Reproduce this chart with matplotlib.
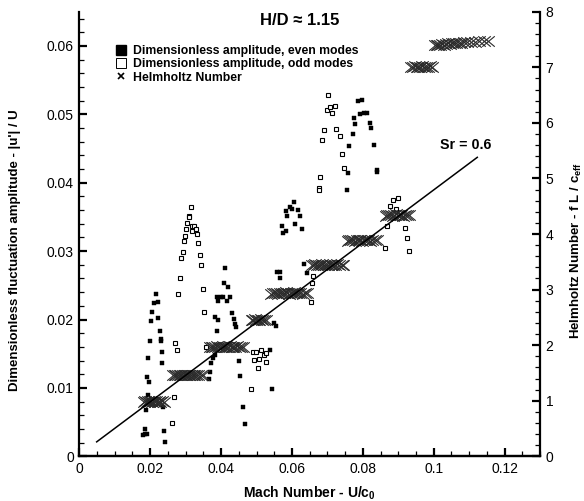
import matplotlib
matplotlib.use('Agg')
import matplotlib.pyplot as plt
from matplotlib.lines import Line2D
from matplotlib.path import Path
from matplotlib.ticker import MultipleLocator

plt.rcParams['font.family'] = ['Liberation Sans', 'DejaVu Sans']
plt.rcParams['mathtext.fontset'] = 'custom'
plt.rcParams['mathtext.rm'] = 'Liberation Sans:bold'
plt.rcParams['mathtext.it'] = 'Liberation Sans:bold'
plt.rcParams['mathtext.default'] = 'rm'

# even modes (filled squares): Mach number, |u'|/U
even_mach = [0.0217, 0.0212, 0.0222, 0.0206, 0.0203, 0.0223, 0.0228, 0.0231, 0.0231, 0.0200,
             0.0234, 0.0195, 0.0234, 0.0192, 0.0197, 0.0195, 0.0189, 0.0237, 0.0186, 0.0181,
             0.0186, 0.0192, 0.0240, 0.0243, 0.0198,
             0.0412, 0.0409, 0.0420, 0.0389, 0.0399, 0.0406, 0.0425, 0.0391, 0.0416, 0.0432,
             0.0383, 0.0392, 0.0436, 0.0439, 0.0442, 0.0389, 0.0372, 0.0378, 0.0382, 0.0369,
             0.0367, 0.0451, 0.0454, 0.0461, 0.0468,
             0.0549, 0.0554, 0.0539, 0.0544, 0.0557, 0.0565, 0.0567,
             0.0607, 0.0594, 0.0601, 0.0583, 0.0618, 0.0587, 0.0623, 0.0609, 0.0573, 0.0629,
             0.0576, 0.0583, 0.0635, 0.0643,
             0.0787, 0.0799, 0.0792, 0.0804, 0.0813, 0.0776, 0.0779, 0.0819, 0.0824, 0.0773,
             0.0762, 0.0832, 0.0841, 0.0841, 0.0759, 0.0756]
even_amp = [0.0238, 0.0224, 0.0226, 0.0211, 0.0198, 0.0202, 0.0183, 0.0171, 0.0168, 0.0169,
            0.0152, 0.0144, 0.0136, 0.0116, 0.0108, 0.0090, 0.0067, 0.0072, 0.0040, 0.0031,
            0.0033, 0.0033, 0.0037, 0.0021, 0.0082,
            0.0275, 0.0254, 0.0247, 0.0233, 0.0233, 0.0233, 0.0233, 0.0227, 0.0227, 0.0209,
            0.0203, 0.0199, 0.0201, 0.0194, 0.0189, 0.0183, 0.0136, 0.0144, 0.0148, 0.0123,
            0.0113, 0.0140, 0.0118, 0.0072, 0.0047,
            0.0195, 0.0190, 0.0156, 0.0099, 0.0269, 0.0269, 0.0260,
            0.0372, 0.0365, 0.0361, 0.0359, 0.0360, 0.0351, 0.0351, 0.0340, 0.0336, 0.0333,
            0.0326, 0.0330, 0.0281, 0.0268,
            0.0520, 0.0521, 0.0500, 0.0502, 0.0502, 0.0494, 0.0486, 0.0488, 0.0480, 0.0471,
            0.0454, 0.0455, 0.0418, 0.0415, 0.0414, 0.0389]

# odd modes (open squares)
odd_mach = [0.0314, 0.0309, 0.0310, 0.0305, 0.0317, 0.0324, 0.0301, 0.0319, 0.0328, 0.0331,
            0.0299, 0.0295, 0.0336, 0.0292, 0.0288, 0.0340, 0.0343, 0.0283, 0.0278, 0.0348,
            0.0352, 0.0270, 0.0276, 0.0357, 0.0266, 0.0262,
            0.0489, 0.0498, 0.0513, 0.0520, 0.0526, 0.0492, 0.0507, 0.0527, 0.0503, 0.0485,
            0.0659, 0.0656, 0.0653,
            0.0703, 0.0700, 0.0708, 0.0713, 0.0721, 0.0691, 0.0725, 0.0736, 0.0685, 0.0740,
            0.0746, 0.0679, 0.0675, 0.0675,
            0.0884, 0.0900, 0.0878, 0.0895, 0.0869, 0.0920, 0.0925, 0.0863, 0.0931]
odd_amp = [0.0365, 0.0352, 0.0350, 0.0341, 0.0337, 0.0337, 0.0332, 0.0330, 0.0333, 0.0325,
           0.0322, 0.0315, 0.0312, 0.0298, 0.0290, 0.0294, 0.0279, 0.0260, 0.0237, 0.0245,
           0.0211, 0.0166, 0.0156, 0.0160, 0.0086, 0.0048,
           0.0152, 0.0153, 0.0155, 0.0148, 0.0151, 0.0141, 0.0142, 0.0138, 0.0129, 0.0098,
           0.0264, 0.0254, 0.0225,
           0.0528, 0.0507, 0.0510, 0.0502, 0.0512, 0.0477, 0.0479, 0.0469, 0.0462, 0.0442,
           0.0421, 0.0409, 0.0392, 0.0389,
           0.0375, 0.0377, 0.0366, 0.0361, 0.0336, 0.0334, 0.0319, 0.0304, 0.0300]

# Helmholtz number f L / c_eff (right axis)
helm_mach = [0.0183, 0.0186, 0.0190, 0.0193, 0.0196, 0.0199, 0.0203, 0.0206, 0.0210, 0.0213,
             0.0217, 0.0221, 0.0225, 0.0229, 0.0234, 0.0240,
             0.0265, 0.0270, 0.0274, 0.0279, 0.0284, 0.0288, 0.0293, 0.0297, 0.0301, 0.0306,
             0.0310, 0.0315, 0.0320, 0.0325, 0.0330, 0.0336, 0.0342, 0.0349,
             0.0369, 0.0374, 0.0378, 0.0383, 0.0388, 0.0392, 0.0397, 0.0402, 0.0406, 0.0411,
             0.0415, 0.0420, 0.0425, 0.0430, 0.0435, 0.0440, 0.0446, 0.0451, 0.0457, 0.0463,
             0.0486, 0.0490, 0.0495, 0.0499, 0.0503, 0.0507, 0.0512, 0.0516, 0.0521, 0.0527,
             0.0542, 0.0547, 0.0552, 0.0557, 0.0562, 0.0567, 0.0572, 0.0577, 0.0582, 0.0587,
             0.0592, 0.0597, 0.0602, 0.0607, 0.0612, 0.0618, 0.0624, 0.0630, 0.0636, 0.0642,
             0.0656, 0.0661, 0.0666, 0.0671, 0.0676, 0.0681, 0.0686, 0.0691, 0.0696, 0.0701,
             0.0706, 0.0711, 0.0716, 0.0722, 0.0728, 0.0734, 0.0740, 0.0745,
             0.0757, 0.0762, 0.0767, 0.0773, 0.0778, 0.0783, 0.0788, 0.0793, 0.0798, 0.0804,
             0.0809, 0.0815, 0.0821, 0.0827, 0.0834, 0.0840,
             0.0864, 0.0869, 0.0874, 0.0879, 0.0884, 0.0889, 0.0894, 0.0899, 0.0904, 0.0909,
             0.0914, 0.0919, 0.0924, 0.0929,
             0.0937, 0.0942, 0.0947, 0.0952, 0.0957, 0.0962, 0.0967, 0.0972, 0.0978, 0.0984,
             0.0990, 0.0996,
             0.1003, 0.1008, 0.1013, 0.1018, 0.1023, 0.1028, 0.1034, 0.1040, 0.1046, 0.1052,
             0.1058, 0.1064, 0.1071, 0.1078, 0.1086, 0.1094, 0.1104, 0.1116, 0.1128, 0.1141,
             0.1154]
helm_he = [0.98, 0.99, 0.98, 0.99, 0.98, 0.99, 0.99, 0.98, 0.99, 0.98,
           0.99, 0.98, 0.99, 0.98, 0.99, 0.98,
           1.46, 1.47, 1.46, 1.47, 1.46, 1.46, 1.47, 1.46, 1.47, 1.46,
           1.47, 1.46, 1.47, 1.46, 1.47, 1.46, 1.47, 1.46,
           1.96, 1.97, 1.96, 1.97, 1.98, 1.97, 1.96, 1.97, 1.98, 1.97,
           1.96, 1.97, 1.98, 1.97, 1.96, 1.97, 1.98, 1.97, 1.96, 1.97,
           2.45, 2.46, 2.47, 2.46, 2.45, 2.46, 2.47, 2.46, 2.45, 2.46,
           2.92, 2.93, 2.94, 2.93, 2.92, 2.93, 2.94, 2.93, 2.95, 2.93,
           2.92, 2.94, 2.93, 2.95, 2.93, 2.94, 2.93, 2.92, 2.94, 2.93,
           3.44, 3.45, 3.46, 3.45, 3.44, 3.45, 3.46, 3.45, 3.44, 3.45,
           3.46, 3.45, 3.44, 3.45, 3.46, 3.45, 3.44, 3.45,
           3.88, 3.89, 3.90, 3.89, 3.88, 3.89, 3.90, 3.89, 3.88, 3.89,
           3.90, 3.89, 3.88, 3.89, 3.90, 3.89,
           4.33, 4.34, 4.35, 4.34, 4.33, 4.34, 4.36, 4.34, 4.35, 4.34,
           4.33, 4.35, 4.34, 4.35,
           7.00, 7.01, 7.02, 7.01, 7.00, 7.01, 7.02, 7.01, 7.00, 7.01,
           7.02, 7.01,
           7.40, 7.41, 7.40, 7.41, 7.42, 7.41, 7.42, 7.43, 7.42, 7.43,
           7.43, 7.44, 7.43, 7.44, 7.45, 7.45, 7.46, 7.46, 7.47, 7.48,
           7.48]

# Sr = 0.6 line (Helmholtz units)
sr_mach = [0.0049, 0.1123]
sr_he = [0.26, 5.38]

# wide x marker like the original plot
wide_x = Path([(-1.2, -1), (1.2, 1), (-1.2, 1), (1.2, -1)],
              [Path.MOVETO, Path.LINETO, Path.MOVETO, Path.LINETO])

fig = plt.figure(figsize=(5.84, 5.01), dpi=100)
ax = fig.add_axes([0.1358, 0.0892, 0.7889, 0.8874])
ax2 = ax.twinx()

ax.plot(even_mach, even_amp, 's', ms=3.3, color='black', mec='black', mew=0.3, zorder=3)
ax.plot(odd_mach, odd_amp, 's', ms=2.8, mfc='white', mec='black', mew=0.8, zorder=3)

ax2.plot(helm_mach, helm_he, ls='none', marker=wide_x, ms=9, mew=0.8, color='#2a2a2a')
ax2.plot(sr_mach, sr_he, '-', color='black', lw=1.1)

ax.set_xlim(0, 0.13)
ax.set_ylim(0, 0.065)
ax2.set_ylim(0, 8)

ax.xaxis.set_major_locator(MultipleLocator(0.02))
ax.xaxis.set_minor_locator(MultipleLocator(0.005))
ax.yaxis.set_major_locator(MultipleLocator(0.01))
ax.yaxis.set_minor_locator(MultipleLocator(0.002))
ax2.yaxis.set_major_locator(MultipleLocator(1))
ax2.yaxis.set_minor_locator(MultipleLocator(0.2))
ax.set_xticks([0, 0.02, 0.04, 0.06, 0.08, 0.1, 0.12])
ax.set_xticklabels(['0', '0.02', '0.04', '0.06', '0.08', '0.1', '0.12'])
ax.set_yticks([0, 0.01, 0.02, 0.03, 0.04, 0.05, 0.06])
ax.set_yticklabels(['0', '0.01', '0.02', '0.03', '0.04', '0.05', '0.06'])

for a in (ax, ax2):
    a.spines['top'].set_visible(False)
    for s in a.spines.values():
        s.set_linewidth(1.6)
    a.tick_params(which='major', direction='in', length=6, width=1.6, labelsize=10, pad=4)
    a.tick_params(which='minor', direction='in', length=3.5, width=0.9)
ax.spines['right'].set_visible(False)
ax2.spines['left'].set_visible(False)
ax.tick_params(axis='y', which='both', right=False)
ax.tick_params(axis='x', which='both', top=False)

ax.set_xlabel('Mach Number - U/c$_0$', fontsize=10, fontweight='bold', labelpad=6)
ax.set_ylabel("Dimensionless fluctuation amplitude - |u'| / U", fontsize=9.5,
              fontweight='bold')
ax.yaxis.set_label_coords(-0.127, 0.464)
ax2.set_ylabel('Helmholtz Number - f L / c$_{eff}$', fontsize=9.5, fontweight='bold')
ax2.yaxis.set_label_coords(1.062, 0.464)

ax.text(0.479, 0.981, 'H/D \u2248 1.15', transform=ax.transAxes, ha='center', va='center',
        fontsize=12, fontweight='bold')
ax2.text(0.1089, 5.60, 'Sr = 0.6', ha='center', va='center', fontsize=10.3, fontweight='bold')

handles = [Line2D([], [], ls='none', marker='s', ms=6.5, color='black'),
           Line2D([], [], ls='none', marker='s', ms=6.5, mfc='white', mec='black', mew=0.7),
           Line2D([], [], ls='none', marker='x', ms=4, mew=1.2, color='black')]
labels = ['Dimensionless amplitude, even modes',
          'Dimensionless amplitude, odd modes',
          'Helmholtz Number']
leg = ax2.legend(handles, labels, loc='upper left', bbox_to_anchor=(0.08, 0.925),
                 frameon=False, borderpad=0, borderaxespad=0, handlelength=0.8,
                 handletextpad=0.6, labelspacing=0.1, prop={'weight': 'bold', 'size': 8.8})

fig.savefig('out.png', dpi=100)
